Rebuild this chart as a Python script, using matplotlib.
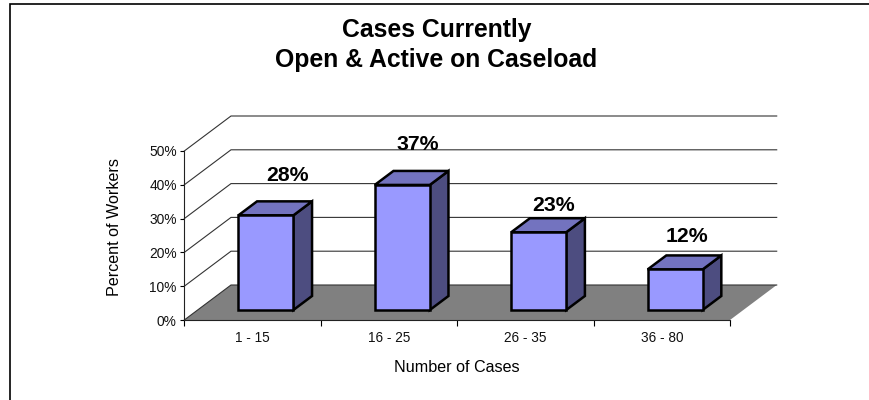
import numpy as np
import matplotlib
matplotlib.use("Agg")
import matplotlib.pyplot as plt
from matplotlib.patches import Polygon, Rectangle

plt.rcParams["font.family"] = ["Liberation Sans", "DejaVu Sans"]

# Data
categories = ["1 - 15", "16 - 25", "26 - 35", "36 - 80"]
percent_workers = [28, 37, 23, 12]
y_ticks = [0, 10, 20, 30, 40, 50]

# label nudges from the back of each bar top, in pixels
label_dx = [3, -3, -3.5, -7]
label_dy = [26, 26, 13, 19]

W, H = 869, 400
fig = plt.figure(figsize=(W / 100, H / 100), dpi=100, facecolor="white")

# Front plane of the fake 3D box, in pixels
left, right, bottom, top = 184.3, 730.0, 320.0, 151.0
ax = fig.add_axes([left / W, 1 - bottom / H, (right - left) / W, (bottom - top) / H])
ax.set_xlim(0, len(categories))
ax.set_ylim(0, y_ticks[-1])
ax.patch.set_visible(False)

# depth offset of the back wall, in data units
unit_x = (right - left) / len(categories)
unit_y = (bottom - top) / y_ticks[-1]
depth_x = 46.7 / unit_x
depth_y = 35.0 / unit_y


def shift(x, y, d):
    # d is 0 at the front of the floor and 1 at the back wall
    return (x + d * depth_x, y + d * depth_y)


n = len(categories)
floor = [shift(0, 0, 0), shift(n, 0, 0), shift(n, 0, 1), shift(0, 0, 1)]
ax.add_patch(Polygon(floor, closed=True, facecolor="#808080", edgecolor="none",
                     clip_on=False, zorder=1))

# wall grid lines
for t in y_ticks:
    pts = [shift(0, t, 0), shift(0, t, 1), shift(n, t, 1)]
    ax.plot([p[0] for p in pts], [p[1] for p in pts], color="#333333", lw=0.8,
            clip_on=False, zorder=1.5, solid_joinstyle="miter")

# bars
bar_w = 55.0 / unit_x
d0, d1 = 0.286, 0.686
for i, v in enumerate(percent_workers):
    x0 = i + 0.5 - bar_w / 2
    x1 = x0 + bar_w
    kw = dict(closed=True, edgecolor="black", lw=1.8, joinstyle="miter",
              clip_on=False, zorder=3 + i)
    front = [shift(x0, 0, d0), shift(x1, 0, d0), shift(x1, v, d0), shift(x0, v, d0)]
    side = [shift(x1, 0, d0), shift(x1, 0, d1), shift(x1, v, d1), shift(x1, v, d0)]
    lid = [shift(x0, v, d0), shift(x1, v, d0), shift(x1, v, d1), shift(x0, v, d1)]
    ax.add_patch(Polygon(side, facecolor="#4D4D80", **kw))
    ax.add_patch(Polygon(lid, facecolor="#7373BF", **kw))
    ax.add_patch(Polygon(front, facecolor="#9999FF", **kw))
    lx, ly = shift(i + 0.5, v, d1)
    ax.text(lx + label_dx[i] / unit_x, ly + label_dy[i] / unit_y, f"{v}%", ha="center",
            va="center", fontsize=15.3, fontweight="bold", color="black", zorder=10)

# axes
for s in ["top", "right"]:
    ax.spines[s].set_visible(False)
for s in ["left", "bottom"]:
    ax.spines[s].set_linewidth(0.8)
    ax.spines[s].set_color("#222222")
    ax.spines[s].set_zorder(2)
ax.set_yticks(y_ticks)
ax.set_yticklabels([f"{t}%" for t in y_ticks], fontsize=9.9, color="#111111")
ax.set_xticks(np.arange(n + 1))
ax.set_xticklabels([])
ax.set_xticks(np.arange(n) + 0.5, minor=True)
ax.set_xticklabels(categories, minor=True, fontsize=9.8, color="#111111")
ax.tick_params(axis="y", length=3, width=0.8, pad=2.5)
ax.tick_params(axis="x", which="major", length=4, width=0.8)
ax.tick_params(axis="x", which="minor", length=0, pad=8)

fig.text(114 / W, 1 - 227 / H, "Percent of Workers", rotation=90, ha="center",
         va="center", fontsize=11.6)
fig.text(457 / W, 1 - 367 / H, "Number of Cases", ha="center", va="center", fontsize=11.6)
fig.text(436.5 / W, 1 - 45 / H, "Cases Currently\nOpen & Active on Caseload", ha="center",
         va="center", fontsize=17.8, fontweight="bold", linespacing=1.3)

# chart border
fig.add_artist(Rectangle((9.5 / W, -0.1), 1.1, 0.1 + 1 - 4.5 / H, transform=fig.transFigure,
                         facecolor="none", edgecolor="black", lw=1.2))

fig.savefig("out.png", dpi=100)
